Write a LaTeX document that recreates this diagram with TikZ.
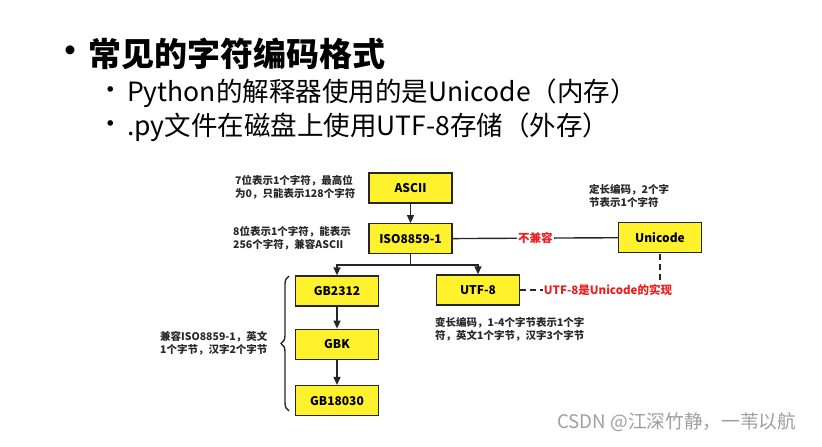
\documentclass[tikz,border=0pt]{standalone}
\usepackage{fontspec}
\setmainfont{Noto Sans CJK SC}
\usetikzlibrary{positioning,arrows.meta,decorations.pathreplacing}
\definecolor{boxyellow}{RGB}{255,242,45}
\definecolor{notered}{RGB}{235,30,30}
\definecolor{darktext}{RGB}{40,40,40}

\begin{document}
\begin{tikzpicture}[x=1pt,y=-1pt]
	\tikzstyle{code}=[draw=black!85,line width=1.3pt,fill=boxyellow,minimum width=83pt,minimum height=30pt,inner sep=0pt,font=\fontsize{12}{14}\selectfont\bfseries]
	\tikzstyle{note}=[align=left,anchor=west,inner sep=0pt,text=darktext,font=\fontsize{10.5}{13}\selectfont\bfseries]
	\tikzstyle{redlabel}=[fill=white,inner sep=1pt,text=notered,font=\fontsize{11.5}{13}\selectfont\bfseries]
	\tikzstyle{arr}=[line width=1.4pt,draw=black!85,-{Triangle[length=8pt,width=7pt]}]
	\tikzstyle{line}=[line width=1.4pt,draw=black!85]
	\useasboundingbox (0,0) rectangle (822,447);
	% heading and bullets
		\node[inner sep=0pt,font=\fontsize{32}{36}\selectfont\bfseries] (dot0) at (70,54) {•};
		\node[anchor=west,inner sep=0pt,font=\fontsize{33}{36}\selectfont\bfseries] (title) at (88,54) {常见的字符编码格式};
		\node[inner sep=0pt,font=\fontsize{26.5}{32}\selectfont] (dot1) at (111,93) {•};
		\node[anchor=west,inner sep=0pt,font=\fontsize{26.5}{32}\selectfont] (line1) at (127,93) {Python的解释器使用的是Unicode（内存）};
		\node[inner sep=0pt,font=\fontsize{26.5}{32}\selectfont] (dot2) at (111,127) {•};
		\node[anchor=west,inner sep=0pt,font=\fontsize{26.5}{32}\selectfont] (line2) at (127,127) {.py文件在磁盘上使用UTF-8存储（外存）};
	% encodings
		\node[code] (ascii) at (410.5,188) {ASCII};
		\node[code] (iso) [below=19.5pt of ascii] {ISO8859-1};
		\node[code] (unicode) at (660,237.5) {Unicode};
		\node[code] (gb2312) at (337,291) {GB2312};
		\node[code] (gbk) [below=22pt of gb2312] {GBK};
		\node[code] (gb18030) [below=25pt of gbk] {GB18030};
		\node[code] (utf8) at (478,290) {UTF-8};
		\coordinate (split) at (410.5,265);
			\draw[arr] (ascii) -- (iso);
			\draw[line] (iso) -- node[redlabel] (incompat) {不兼容} (unicode);
			\draw[line] (iso.south) -- (split);
			\draw[arr] (split) -| (gb2312.north);
			\draw[arr] (split) -| (utf8.north);
			\draw[arr] (gb2312) -- (gbk);
			\draw[arr] (gbk) -- (gb18030);
			\draw[line,dash pattern=on 6pt off 4pt] (utf8.east) -| (unicode.south);
		\node[redlabel] (impl) at (608,290) {UTF-8是Unicode的实现};
		\draw[line,decorate,decoration={brace,amplitude=8pt}] (289,411) -- (289,276);
	% notes
		\node[note] (asciinote) at (235,187.5) {7位表示1个字符，最高位\\为0，只能表示128个字符};
		\node[note] (isonote) at (233,238.5) {8位表示1个字符，能表示\\256个字符，兼容ASCII};
		\node[note] (uninote) at (589,196) {定长编码，2个字\\节表示1个字符};
		\node[note] (utfnote) at (435,329) {变长编码，1-4个字节表示1个字\\符，英文1个字节，汉字3个字节};
		\node[note] (gbnote) at (160,343.5) {兼容ISO8859-1，英文\\1个字节，汉字2个字节};
		\node[anchor=west,inner sep=0pt,text=black!38,font=\fontsize{18.7}{22}\selectfont] (mark) at (557,422) {CSDN @江深竹静，一苇以航};
\end{tikzpicture}
\end{document}
